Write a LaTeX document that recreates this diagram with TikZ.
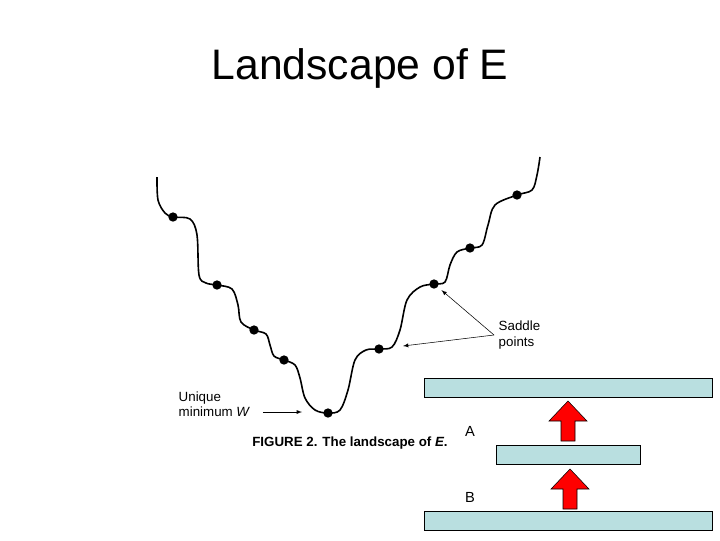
\documentclass[tikz,border=0pt]{standalone}
\usepackage{fontspec}
\setmainfont{Liberation Sans}
\usetikzlibrary{arrows,arrows.meta,positioning,shapes}
\tikzset{>=latex}
\definecolor{levelblue}{RGB}{185,223,224}

\begin{document}
\begin{tikzpicture}[x=0.75pt, y=-0.75pt, font=\small]
		\tikzset{level/.style={draw,fill=levelblue},
			saddle/.style={circle,fill=black,inner sep=0pt,minimum size=7pt},
			label/.style={align=left,anchor=west,font=\fontsize{10}{11.5}\selectfont}}
		\newcommand{\uparr}[2]{\draw[fill=red] (#1-7,#2+40) -- (#1+7,#2+40) -- (#1+7,#2+20) -- (#1+19,#2+20) -- (#1,#2) -- (#1-19,#2+20) -- (#1-7,#2+20) -- cycle;}
		\useasboundingbox (0,0) rectangle (720,540);
		
		\node[font=\fontsize{32}{36}\selectfont] (title) at (360,68) {Landscape of E};
		
		% the energy curve
		\draw[line width=1.2pt] plot[smooth,tension=0.55] coordinates {
			(157,177) (158,200) (165,213) (173,217) (190,219) (197,235) (199,275) (206,283) (217,285)
			(232,289) (238,305) (241,322) (254,330) (266,334) (270,345) (274,356) (284,360)
			(295,365) (300,378) (305,398) (315,410) (328,413) (340,410) (348,390) (355,360)
			(366,350) (379,349) (392,347) (400,330) (407,300) (420,287) (434,284) (445,282)
			(450,265) (457,252) (470,248) (482,245) (488,225) (495,205) (517,195) (532,190)
			(537,175) (540,157)};
		
		\foreach \n/\p in {s1/{173,217},s2/{217,285},s3/{254,330},s4/{284,360},wmin/{328,413},s5/{379,349},s6/{434,284},s7/{470,248},s8/{517,195}}
			\node[saddle] (\n) at (\p) {};
		
		\node[label] (saddles) at (494,335) {Saddle\\points};
		\node[label] (unique) at (174,404) {Unique\\minimum \textit{W}};
		\node[font=\fontsize{10}{12}\selectfont\bfseries] (caption) at (350,443) {FIGURE 2. The landscape of \textit{E}.};
		
		\draw[->] (saddles.west) -- ([xshift=3pt,yshift=-2pt]s6.south east);
		\draw[->] (saddles.west) -- (403,346);
		\draw[->] ([xshift=6pt,yshift=-6pt]unique.east) -- (302,412);
		
		% levels
		\node[level,minimum width=216pt,minimum height=14.5pt] (top) at (568,388) {};
		\node[level,minimum width=108pt,minimum height=14.5pt] (mid) at (568,455) {};
		\node[level,minimum width=216pt,minimum height=14.5pt] (bot) at (568,521) {};
		
		\uparr{568}{401}
		\uparr{570}{469}
		
		\node[font=\fontsize{11}{13}\selectfont] (labA) at (470,431) {A};
		\node[font=\fontsize{11}{13}\selectfont] (labB) at (470,497) {B};
	\end{tikzpicture}
\end{document}
